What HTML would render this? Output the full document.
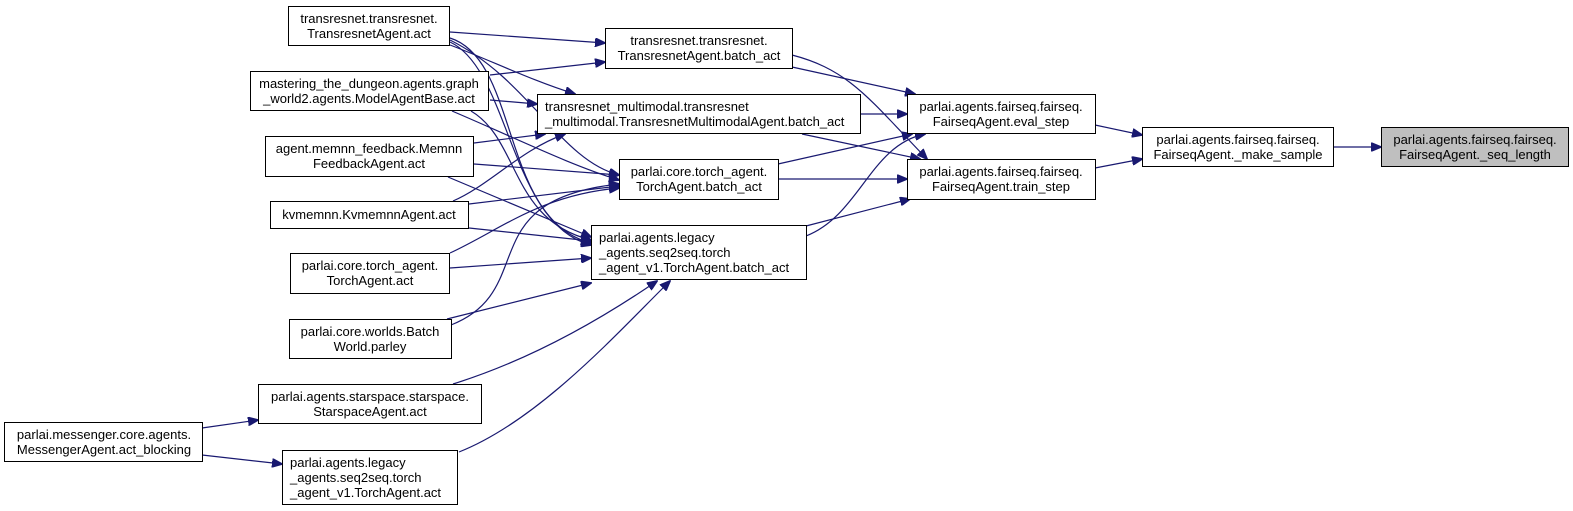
<!DOCTYPE html>
<html><head><meta charset="utf-8"><style>
html,body{margin:0;padding:0;background:#fff;}
svg{display:block;}
text{font-family:"Liberation Sans",Arial,sans-serif;font-size:13px;fill:#000;}
</style></head><body>
<svg width="1573" height="511" viewBox="0 0 1573 511" xmlns="http://www.w3.org/2000/svg">
<defs>
<marker id="a" markerWidth="11" markerHeight="9" refX="10" refY="4.5" orient="auto" markerUnits="userSpaceOnUse">
<path d="M0,0 L11,4.5 L0,9 Z" fill="#191970" stroke="#191970"/>
</marker>
</defs>
<g fill="none" stroke="#191970" stroke-width="1.2" marker-end="url(#a)">
<path d="M1333,147 L1381,147"/>
<path d="M1095,125 L1142,135"/>
<path d="M1095,168 L1142,159"/>
<path d="M792,67 L915,94"/>
<path d="M792,55 C850,70 870,100 927,159"/>
<path d="M860,114 L907,114"/>
<path d="M802,134 L920,159"/>
<path d="M778,164 L912,134"/>
<path d="M778,179 L907,179"/>
<path d="M806,236 C860,215 870,145 925,134"/>
<path d="M806,226 L910,199"/>
<path d="M450,32 L605,43"/>
<path d="M490,75 L605,62"/>
<path d="M450,45 C490,60 530,80 575,94"/>
<path d="M490,100 L537,104"/>
<path d="M474,143 L545,134"/>
<path d="M453,201 C490,185 520,150 565,134"/>
<path d="M450,40 C530,80 560,160 619,175"/>
<path d="M452,111 C520,140 570,165 619,180"/>
<path d="M474,164 L619,175"/>
<path d="M469,204 L619,186"/>
<path d="M450,253 C500,230 540,195 619,188"/>
<path d="M451,325 C540,290 470,200 619,184"/>
<path d="M450,38 C520,60 500,220 591,243"/>
<path d="M450,42 C510,70 510,225 591,245"/>
<path d="M471,111 C520,140 510,220 591,240"/>
<path d="M448,177 L591,237"/>
<path d="M469,228 L591,241"/>
<path d="M450,268 L591,258"/>
<path d="M447,319 L591,283"/>
<path d="M453,384 C530,360 600,320 657,281"/>
<path d="M459,452 C540,420 620,330 670,281"/>
<path d="M202,428 L258,420"/>
<path d="M202,455 L282,464"/>
</g>
<g fill="#fff" stroke="#000" stroke-width="1">
<rect x="288.5" y="6.5" width="161" height="39"/>
<rect x="250.5" y="71.5" width="238" height="39"/>
<rect x="265.5" y="136.5" width="208" height="40"/>
<rect x="270.5" y="201.5" width="198" height="27"/>
<rect x="290.5" y="253.5" width="159" height="40"/>
<rect x="289.5" y="319.5" width="162" height="39"/>
<rect x="258.5" y="384.5" width="223" height="39"/>
<rect x="4.5" y="422.5" width="198" height="39"/>
<rect x="282.5" y="450.5" width="175" height="54"/>
<rect x="605.5" y="28.5" width="187" height="40"/>
<rect x="537.5" y="94.5" width="323" height="39"/>
<rect x="619.5" y="159.5" width="159" height="40"/>
<rect x="591.5" y="225.5" width="215" height="54"/>
<rect x="907.5" y="94.5" width="188" height="39"/>
<rect x="907.5" y="159.5" width="188" height="40"/>
<rect x="1142.5" y="127.5" width="191" height="39"/>
<rect x="1381.5" y="127.5" width="187" height="39" fill="#bfbfbf"/>
</g>
<g text-anchor="middle">
<text x="369" y="23">transresnet.transresnet.</text><text x="369" y="38">TransresnetAgent.act</text>
<text x="369" y="88">mastering_the_dungeon.agents.graph</text><text x="369" y="103">_world2.agents.ModelAgentBase.act</text>
<text x="369" y="153">agent.memnn_feedback.Memnn</text><text x="369" y="168">FeedbackAgent.act</text>
<text x="369" y="219">kvmemnn.KvmemnnAgent.act</text>
<text x="370" y="270">parlai.core.torch_agent.</text><text x="370" y="285">TorchAgent.act</text>
<text x="370" y="336">parlai.core.worlds.Batch</text><text x="370" y="351">World.parley</text>
<text x="370" y="401">parlai.agents.starspace.starspace.</text><text x="370" y="416">StarspaceAgent.act</text>
<text x="104" y="439">parlai.messenger.core.agents.</text><text x="104" y="454">MessengerAgent.act_blocking</text>
<text x="699" y="45">transresnet.transresnet.</text><text x="699" y="60">TransresnetAgent.batch_act</text>
<text x="699" y="176">parlai.core.torch_agent.</text><text x="699" y="191">TorchAgent.batch_act</text>
<text x="1001" y="111">parlai.agents.fairseq.fairseq.</text><text x="1001" y="126">FairseqAgent.eval_step</text>
<text x="1001" y="176">parlai.agents.fairseq.fairseq.</text><text x="1001" y="191">FairseqAgent.train_step</text>
<text x="1238" y="144">parlai.agents.fairseq.fairseq.</text><text x="1238" y="159">FairseqAgent._make_sample</text>
<text x="1475" y="144">parlai.agents.fairseq.fairseq.</text><text x="1475" y="159">FairseqAgent._seq_length</text>
</g>
<g>
<text x="290" y="467">parlai.agents.legacy</text><text x="290" y="482">_agents.seq2seq.torch</text><text x="290" y="497">_agent_v1.TorchAgent.act</text>
<text x="545" y="111">transresnet_multimodal.transresnet</text><text x="545" y="126">_multimodal.TransresnetMultimodalAgent.batch_act</text>
<text x="599" y="242">parlai.agents.legacy</text><text x="599" y="257">_agents.seq2seq.torch</text><text x="599" y="272">_agent_v1.TorchAgent.batch_act</text>
</g>
</svg>
</body></html>
